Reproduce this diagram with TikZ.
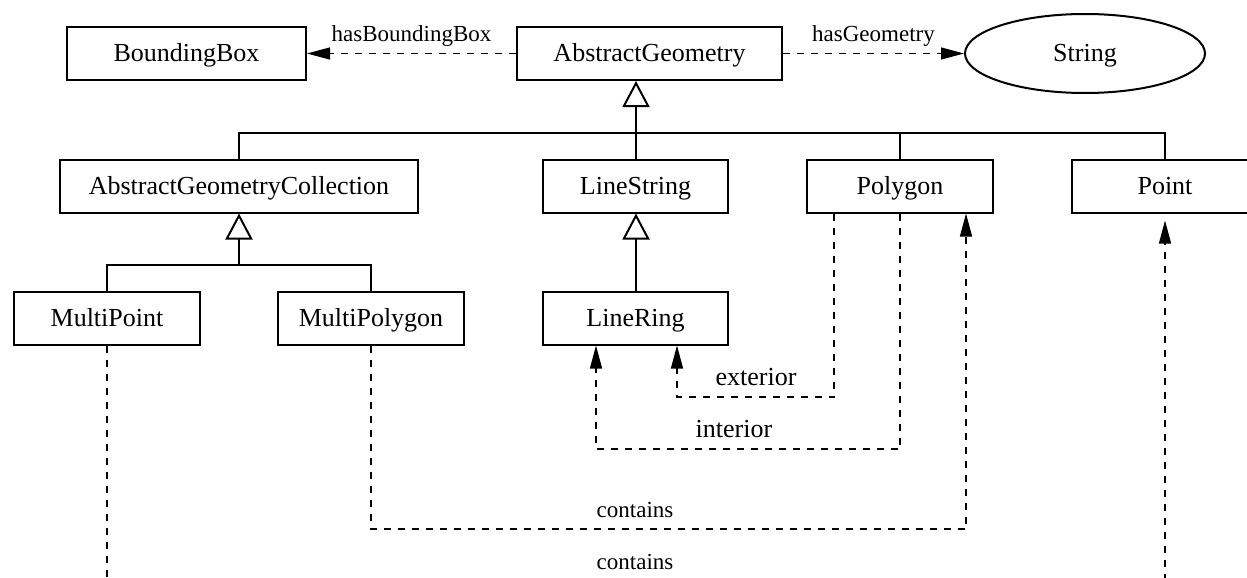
\documentclass[tikz,border=0pt]{standalone}
\usepackage{fontspec}
\setmainfont{Liberation Serif}
\usetikzlibrary{arrows.meta,shapes.geometric}
\begin{document}
\begin{tikzpicture}[x=1pt,y=-1pt,
  cls/.style={draw,line width=2pt,rectangle,inner sep=0pt,minimum height=53pt,text height=19pt,text depth=2pt,font=\fontsize{26}{30}\selectfont},
  lit/.style={draw,line width=2pt,ellipse,inner sep=0pt,minimum width=240pt,minimum height=79pt,text height=19pt,text depth=2pt,font=\fontsize{26}{30}\selectfont},
  gen/.style={line width=2pt,line join=miter,-{Triangle[open,length=26pt,width=27pt,fill=white]}},
  bus/.style={line width=2pt,line join=miter},
  dep/.style={line width=1.3pt,dash pattern=on 7pt off 7pt,-{Triangle[length=23pt,width=12pt]}},
  deplab/.style={inner sep=0pt,font=\fontsize{23}{27}\selectfont},
  biglab/.style={inner sep=0pt,font=\fontsize{26}{30}\selectfont}]
\clip (0,0) rectangle (1247,578);
\useasboundingbox (0,0) rectangle (1247,578);
% class nodes
\node[cls,minimum width=239pt] (bb) at (186.5,53.5) {BoundingBox};
\node[cls,minimum width=265pt] (ag) at (649.5,53.5) {AbstractGeometry};
\node[lit] (str) at (1085,53.5) {String};
\node[cls,minimum width=358pt] (agc) at (239,186) {AbstractGeometryCollection};
\node[cls,minimum width=185pt] (ls) at (635.5,186) {LineString};
\node[cls,minimum width=186pt] (poly) at (900,186) {Polygon};
\node[cls,minimum width=186pt] (pt) at (1165,186) {Point};
\node[cls,minimum width=186pt] (mpt) at (107,318) {MultiPoint};
\node[cls,minimum width=186pt] (mpoly) at (371,318) {MultiPolygon};
\node[cls,minimum width=185pt] (lr) at (635.5,318) {LineRing};
% helper coordinates
\coordinate (busA) at (636,133);
\coordinate (busB) at (239,265);
\coordinate (exA) at (834,397);
\coordinate (exB) at (677,397);
\coordinate (inA) at (900,449);
\coordinate (inB) at (596,449);
\coordinate (coA) at (371,529);
\coordinate (coB) at (966,529);
\coordinate (cpA) at (107,620);
\coordinate (cpB) at (1165,620);
% properties
\draw[dep] (ag.west) -- (bb.east) node[deplab,midway,above=6pt] {hasBoundingBox};
\draw[dep] (ag.east) -- (str.west) node[deplab,midway,above=6pt] {hasGeometry};
% generalisation
\draw[bus] (agc.north) |- (pt.north |- busA) -- (pt.north);
\draw[bus] (poly.north) -- (poly.north |- busA);
\draw[gen] (ls.north -| busA) -- (ag.south -| busA);
\draw[bus] (mpt.north) |- (mpoly.north |- busB) -- (mpoly.north);
\draw[gen] (agc.north |- busB) -- (agc.south);
\draw[gen] (lr.north -| busA) -- (ls.south -| busA);
% dependencies
\draw[dep] (poly.south -| exA) |- (exB) -- (lr.south -| exB);
\node[biglab] (lex) at (756,377) {exterior};
\draw[dep] (poly.south -| inA) |- (inB) -- (lr.south -| inB);
\node[biglab] (lin) at (734,429) {interior};
\draw[dep] (mpoly.south) |- (coB) -- (poly.south -| coB);
\node[deplab] (lco1) at (635,510) {contains};
\draw[dep,shorten >=7pt] (mpt.south) |- (cpB) -- (pt.south -| cpB);
\node[deplab] (lco2) at (635,562) {contains};
\end{tikzpicture}
\end{document}
